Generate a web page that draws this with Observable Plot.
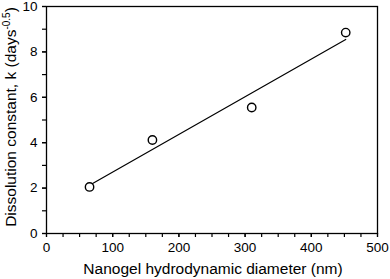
<!DOCTYPE html>
<html>
<head>
<meta charset="utf-8">
<script src="https://cdn.jsdelivr.net/npm/d3@7"></script>
<script src="https://cdn.jsdelivr.net/npm/@observablehq/plot@0.6"></script>
<style>
  html, body { margin: 0; padding: 0; background: #fff; }
  svg { font-family: "Liberation Sans", Arial, sans-serif; }
</style>
</head>
<body>
<div id="chart"></div>
<script>
const diameter = [65, 160, 310, 452];
const kValues = [2.05, 4.12, 5.55, 8.85];
const xMajorTicks = [0, 100, 200, 300, 400, 500];
const yMajorTicks = [0, 2, 4, 6, 8, 10];
const xLabel = "Nanogel hydrodynamic diameter (nm)";
const yLabelMain = "Dissolution constant, k (days";
const yLabelSup = "-0.5";
const yLabelEnd = ")";

const data = diameter.map((d, i) => ({x: d, y: kValues[i]}));

const chart = Plot.plot({
  width: 390,
  height: 279,
  marginLeft: 46,
  marginRight: 13,
  marginTop: 6,
  marginBottom: 46,
  style: {fontFamily: "Liberation Sans, Arial, sans-serif", fontSize: "13px", color: "black", background: "white"},
  x: {domain: [0, 500]},
  y: {domain: [0, 10]},
  marks: [
    Plot.axisX({ticks: d3.range(0, 501, 25), tickSize: 4, text: null, label: null, strokeWidth: 1.2}),
    Plot.axisX({ticks: xMajorTicks, tickSize: 4, tickPadding: 5, label: null, fontSize: 13.5, strokeWidth: 1.2}),
    Plot.axisY({ticks: d3.range(0, 11, 1), tickSize: 4, text: null, label: null, strokeWidth: 1.2}),
    Plot.axisY({ticks: yMajorTicks, tickSize: 4, tickPadding: 5, label: null, fontSize: 13.5, strokeWidth: 1.2}),
    Plot.frame({stroke: "black", strokeWidth: 1.3}),
    Plot.linearRegressionY(data, {x: "x", y: "y", ci: 0, stroke: "black", strokeWidth: 1.2}),
    Plot.dot(data, {x: "x", y: "y", r: 4.2, stroke: "black", strokeWidth: 1.4, fill: "white"})
  ]
});

const svg = d3.select(chart);
svg.append("text")
  .attr("x", 213)
  .attr("y", 274)
  .attr("text-anchor", "middle")
  .attr("font-size", 15.5)
  .attr("fill", "black")
  .text(xLabel);

const yl = svg.append("text")
  .attr("transform", "translate(16,117) rotate(-90)")
  .attr("text-anchor", "middle")
  .attr("font-size", 15.5)
  .attr("fill", "black");
yl.append("tspan").text(yLabelMain);
yl.append("tspan").attr("dy", -6).attr("font-size", 10).text(yLabelSup);
yl.append("tspan").attr("dy", 6).text(yLabelEnd);

document.getElementById("chart").appendChild(chart);
</script>
</body>
</html>
